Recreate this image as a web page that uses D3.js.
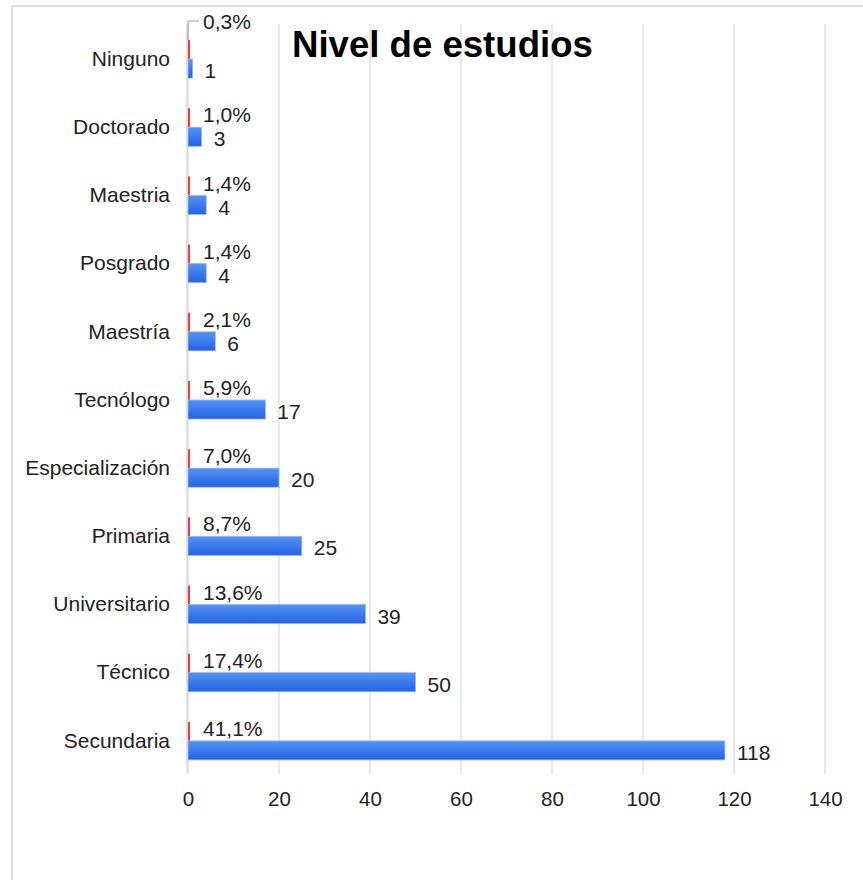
<!DOCTYPE html>
<html>
<head>
<meta charset="utf-8">
<script src="https://cdn.jsdelivr.net/npm/d3@7"></script>
<style>
  html, body { margin: 0; padding: 0; background: #fff; }
  svg { display: block; font-family: "Liberation Sans", Arial, sans-serif; }
</style>
</head>
<body>
<svg id="chart" width="863" height="880"></svg>
<script>
const categories = ["Ninguno","Doctorado","Maestria","Posgrado","Maestría","Tecnólogo","Especialización","Primaria","Universitario","Técnico","Secundaria"];
const counts = [1,3,4,4,6,17,20,25,39,50,118];
const percents = [0.3,1.0,1.4,1.4,2.1,5.9,7.0,8.7,13.6,17.4,41.1];
const xTicks = [0,20,40,60,80,100,120,140];
const title = "Nivel de estudios";

const svg = d3.select("#chart");
const W = 863, H = 880;

// outer frame lines
svg.append("line").attr("x1",12).attr("x2",W).attr("y1",6).attr("y2",6).attr("stroke","#dcdcdc").attr("stroke-width",2);
svg.append("line").attr("x1",12).attr("x2",12).attr("y1",6).attr("y2",H).attr("stroke","#dcdcdc").attr("stroke-width",2);

const x = d3.scaleLinear().domain([0,140]).range([188,825]);
const y = d3.scaleBand().domain(categories).range([25,775]);
const barH = 19;

const defs = svg.append("defs");
const grad = defs.append("linearGradient").attr("id","blueGrad").attr("x1",0).attr("x2",0).attr("y1",0).attr("y2",1);
grad.append("stop").attr("offset","0%").attr("stop-color","#5493f6");
grad.append("stop").attr("offset","100%").attr("stop-color","#2462e2");

// gridlines
const grid = svg.append("g");
grid.selectAll("line").data(xTicks).join("line")
  .attr("x1", d => x(d)).attr("x2", d => x(d))
  .attr("y1", 24).attr("y2", 774)
  .attr("stroke", "#e2e2e2").attr("stroke-width", 1.5);

// x axis labels
const xAxis = d3.axisBottom(x).tickValues(xTicks).tickSize(0).tickPadding(0);
const gx = svg.append("g").attr("transform","translate(0,787)").call(xAxis);
gx.select(".domain").remove();
gx.selectAll("text").attr("font-size",20.5).attr("fill","#222").attr("dy","0.95em")
  .attr("font-family","'Liberation Sans', Arial, sans-serif");

// y axis labels
const yAxis = d3.axisLeft(y).tickSize(0).tickPadding(0);
const gy = svg.append("g").attr("transform","translate(170,0)").call(yAxis);
gy.select(".domain").remove();
gy.selectAll("text").attr("font-size",21).attr("fill","#222")
  .attr("font-family","'Liberation Sans', Arial, sans-serif");

const center = d => y(d) + y.bandwidth()/2;

// red (percentage) bars
svg.append("g").selectAll("rect").data(categories).join("rect")
  .attr("x", x(0))
  .attr("y", d => center(d) - barH)
  .attr("width", (d,i) => Math.max(2, x(percents[i]/100) - x(0)))
  .attr("height", barH)
  .attr("fill", "#ee3b3b");

// blue (count) bars
svg.append("g").selectAll("rect").data(categories).join("rect")
  .attr("x", x(0))
  .attr("y", d => center(d))
  .attr("width", (d,i) => x(counts[i]) - x(0))
  .attr("height", barH)
  .attr("fill", "url(#blueGrad)")
  .attr("stroke", "#8db6f7").attr("stroke-width", 0.8);

// axis line at zero
svg.append("line").attr("x1", x(0) - 1).attr("x2", x(0) - 1).attr("y1", 24).attr("y2", 774)
  .attr("stroke", "#d8d8d8").attr("stroke-width", 1.5);

// count labels
svg.append("g").selectAll("text").data(categories).join("text")
  .attr("x", (d,i) => x(counts[i]) + 12)
  .attr("y", d => center(d) + barH/2 + 2)
  .attr("dy", "0.36em")
  .attr("font-size", 21).attr("fill", "#222")
  .text((d,i) => counts[i]);

// percent labels
const fmtPct = v => v.toFixed(1).replace(".", ",") + "%";
svg.append("g").selectAll("text").data(categories).join("text")
  .attr("x", x(0) + 15)
  .attr("y", (d,i) => i === 0 ? 21 : center(d) - barH/2 - 3)
  .attr("dy", "0.36em")
  .attr("font-size", 21).attr("fill", "#222")
  .text((d,i) => fmtPct(percents[i]));

// leader line for the top percentage label
const c0 = center(categories[0]);
svg.append("path")
  .attr("d", `M${x(0)},${c0 - barH} L${x(0)},21 L${x(0)+11},21`)
  .attr("fill","none").attr("stroke","#999").attr("stroke-width",1);

// title
svg.append("text").attr("x", 292).attr("y", 57)
  .attr("font-size", 36.6).attr("font-weight", "bold").attr("fill", "#000")
  .text(title);
</script>
</body>
</html>
